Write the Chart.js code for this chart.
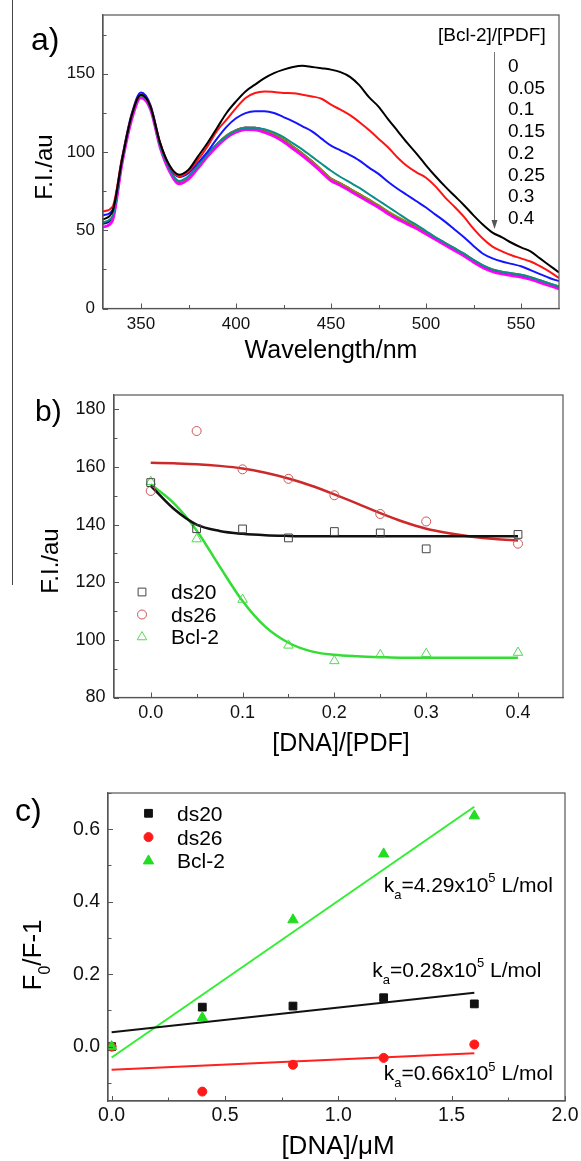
<!DOCTYPE html>
<html lang="en">
<head>
<meta charset="UTF-8">
<title>PDF fluorescence with DNA</title>
<script src="https://cdn.jsdelivr.net/npm/chart.js"></script>
<style>
  body { margin: 0; background: #fff; }
  #page { position: relative; width: 581px; height: 1161px; overflow: hidden; }
  canvas { position: absolute; left: 0; }
  #edge { position: absolute; left: 12px; top: 0; height: 585px; border-left: 1.5px solid #444; }
</style>
</head>
<body>
<div id="page">
  <div id="edge"></div>
  <canvas id="chartA" width="581" height="370" style="top:0"></canvas>
  <canvas id="chartB" width="581" height="390" style="top:370px"></canvas>
  <canvas id="chartC" width="581" height="401" style="top:760px"></canvas>
</div>
<script>
const FONT = "'Liberation Sans', Arial, sans-serif";
Chart.defaults.font.family = FONT;
Chart.defaults.color = '#000';
Chart.defaults.animation = false;
Chart.defaults.plugins.legend.display = false;
Chart.defaults.plugins.tooltip.enabled = false;

// a) emission spectra, one per [Bcl-2]/[PDF] ratio
const wavelength = [330,335,340,345,350,355,360,365,370,375,380,385,390,395,400,405,410,415,420,425,
  430,435,440,445,450,455,460,465,470,475,480,485,490,495,500,505,510,515,520,525,
  530,535,540,545,550,555,560,565,570];
const ratioLabels = ['0', '0.05', '0.1', '0.15', '0.2', '0.25', '0.3', '0.4'];
const fi000 = [56.8,62,95,123,136.5,129,106,91.5,85.5,88.7,97.2,105.7,115.3,124.9,132.3,138.7,143,147.2,150.4,152.6,
  154.3,155.1,154.3,153.5,152.6,151,148,142.5,135,129,121,113.5,106,99,91.5,84.5,78,72,66,59.5,
  53.5,48.5,45.5,42,39,36.5,32,27.5,23];
const fi005 = [62,65,96,123,136.5,129,106,91,84.5,87.6,95,103.6,113.5,120.6,128,134.5,137.7,138.7,138.3,137.7,
  137.5,136.6,135.5,134,130.2,127,123.5,119,114,108.5,103,96.5,91,87,83.5,78,71,65,58.5,51,
  44.5,39.5,36.5,34,32,30,27,23.5,19.5];
const fi010 = [59.5,63,96,124,138,130,106,90.5,84,86.5,93,100,108.5,116,121.5,124.8,126,126,124.9,122.3,
  119.6,116.4,113.2,108.5,104,101,98,94.5,90,86,81,76.5,72.5,68.5,64.5,60,55.5,50.5,45.5,40,
  35,32,30,28.5,27,24.5,22,19.5,17.5];
const fi015 = [55,59,94,122,136,128,104,89,81.5,84.5,91,98.5,105,110,113.6,115.3,115.5,114.5,112.5,109.5,
  105.5,101.5,97,92.5,88,84,80.5,77,73,69,65,61,57,53.5,49.5,45.5,42,38.5,35,31,
  27.5,25,23.5,22.5,21.5,20,18,16,14];
const fi020 = [52,56,92,120,134.5,127,103,87.5,79.5,82.5,89.5,97,103.5,109,112.5,114.2,114,112.5,110,106.5,
  102,97.5,92.5,87,81.5,78.5,75,71.5,68,64.5,60.5,57,54,51,47.5,44,40.5,37,33.5,29.5,
  26,23.5,22,21,20,18.5,16.5,14.5,12.5];
const fi025 = [51.5,57,93,121,135.5,128,104.5,88.5,81,84,91,98.5,105,110.5,114,115.5,115.5,114,111.5,108,
  103.5,99,94,88.5,83,80,76.5,73,69.5,66,62,58.5,55.5,52.5,49,45.5,42,38.5,35,31,
  27.5,25,23.5,22.5,21.5,20,18,16,14];
const fi030 = [54,58,94,122,136,128.5,104.5,89,81,84,91,98.5,105,110.5,114,115.7,115.5,114,111.5,107.5,
  103,98.5,93.5,88,82.5,79.5,76,72.5,69,65.5,61.5,58,55,52,48.5,45,41.5,38,34.5,30.5,
  27,24.5,23,22,21,19.5,17.5,15.5,13.5];
const fi040 = [55,58.5,93.5,121.5,135.5,128,104,88.5,80.5,83.5,90.5,98,104.5,110,113.5,115.2,115.3,113.8,111.3,108,
  103.5,99,94,88.5,83,80,76.5,73,69.5,65.5,61.5,58,55,52,48.5,45,41.5,38,34.5,30.5,
  27,24.5,23,22,21,19.5,17.5,15.5,13];
const spectra = [fi000, fi005, fi010, fi015, fi020, fi025, fi030, fi040];
const spectraColors = ['#000000', '#ff1414', '#1414ff', '#0a8f8a', '#ff00ff', '#8a8a14', '#14147a', '#7a1010'];

// b) F.I. vs [DNA]/[PDF]
const seriesNames = ['ds20', 'ds26', 'Bcl-2'];
const ratioB = [0, 0.05, 0.1, 0.15, 0.2, 0.25, 0.3, 0.4];
const ds20B = [154.6, 138.6, 138.5, 135.4, 137.6, 137.1, 131.6, 136.6];
const ds26B = [151.7, 172.5, 159.2, 155.9, 150.2, 143.7, 141.1, 133.4];
const bcl2B = [154.9, 135.0, 114.0, 98.1, 92.7, 94.8, 95.2, 95.6];
const fitXB = [0, 0.025, 0.05, 0.075, 0.1, 0.125, 0.15, 0.175, 0.2, 0.225, 0.25, 0.275, 0.3, 0.325, 0.35, 0.375, 0.4];
const ds20FitB = [153.5, 145.5, 140, 137.8, 136.8, 136.3, 136.1, 136, 136, 136, 136, 136, 136, 136, 136, 136, 136];
const ds26FitB = [161.5, 161.3, 161, 160.4, 159.5, 158, 156, 153.5, 150.5, 147.3, 144, 141, 138.6, 137, 135.8, 135, 134.5];
const bcl2FitB = [154, 147.5, 138, 125.5, 113.5, 104.5, 99, 96, 94.8, 94.3, 94, 93.8, 93.8, 93.8, 93.8, 93.8, 93.8];

// c) Stern-Volmer plot
const concC = [0, 0.4, 0.8, 1.2, 1.6];
const ds20C = [0, 0.109, 0.112, 0.135, 0.118];
const ds26C = [0, -0.124, -0.050, -0.031, 0.006];
const bcl2C = [0, 0.080, 0.350, 0.532, 0.637];
const fitXC = [0, 1.6];
const ds20FitC = [0.040, 0.149];
const ds26FitC = [-0.064, -0.018];
const bcl2FitC = [-0.030, 0.662];
const kaValues = ['4.29', '0.28', '0.66'];

const pts = (xs, ys) => xs.map((x, i) => ({ x, y: ys[i] }));

function axis(o) {
  return {
    type: 'linear', min: o.min, max: o.max,
    border: { color: '#555', width: 1.2 },
    grid: { drawOnChartArea: false, drawTicks: false },
    ticks: {
      stepSize: o.step, includeBounds: false, padding: o.pad, autoSkip: false, maxRotation: 0,
      font: { size: o.size }, color: '#111',
      callback: v => o.major(v) ? o.fmt(v) : ''
    },
    afterFit: s => {
      if (s.isHorizontal()) s.height = o.fit; else s.width = o.fit;
      s.paddingLeft = s.paddingRight = s.paddingTop = s.paddingBottom = 0;
    }
  };
}

// text with optional sub/superscript pieces, y is the baseline
function rich(ctx, segs, x, y, size, align) {
  const small = Math.round(size * 0.62);
  const piece = s => typeof s === 'string' ? [s, size, 0]
    : (s.sub !== undefined ? [s.sub, small, size * 0.33] : [s.sup, small, -size * 0.45]);
  let total = 0;
  segs.forEach(s => { const [t, fs] = piece(s); ctx.font = fs + 'px ' + FONT; total += ctx.measureText(t).width; });
  let cx = align === 'center' ? x - total / 2 : x;
  ctx.textAlign = 'left';
  ctx.textBaseline = 'alphabetic';
  segs.forEach(s => {
    const [t, fs, dy] = piece(s);
    ctx.font = fs + 'px ' + FONT;
    ctx.fillText(t, cx, y + dy);
    cx += ctx.measureText(t).width;
  });
}
function vtext(ctx, segs, cx, cy, size) {
  ctx.save();
  ctx.translate(cx, cy);
  ctx.rotate(-Math.PI / 2);
  rich(ctx, segs, 0, size * 0.35, size, 'center');
  ctx.restore();
}
// box around the plot plus inward tick marks, major ones longer
function frame(chart, xMajor, yMajor) {
  const { ctx, chartArea: a, scales } = chart;
  ctx.save();
  ctx.strokeStyle = '#555';
  ctx.lineWidth = 1.2;
  ctx.strokeRect(a.left, a.top, a.right - a.left, a.bottom - a.top);
  ctx.lineWidth = 1;
  ctx.beginPath();
  scales.x.ticks.forEach(t => {
    const px = Math.round(scales.x.getPixelForValue(t.value)) + 0.5;
    ctx.moveTo(px, a.bottom);
    ctx.lineTo(px, a.bottom - (xMajor(t.value) ? 5 : 3.5));
  });
  scales.y.ticks.forEach(t => {
    const py = Math.round(scales.y.getPixelForValue(t.value)) + 0.5;
    ctx.moveTo(a.left, py);
    ctx.lineTo(a.left + (yMajor(t.value) ? 5 : 3.5), py);
  });
  ctx.stroke();
  ctx.restore();
}

const majA = { x: v => v % 50 === 0, y: v => v % 50 === 0 };
const majB = { x: v => Math.round(v * 100) % 10 === 0, y: v => v % 20 === 0 };
const majC = { x: v => Math.round(v * 100) % 50 === 0, y: v => Math.round(v * 10) % 2 === 0 };

// ---------- a) ----------
new Chart(document.getElementById('chartA'), {
  type: 'line',
  data: {
    datasets: spectra.map((s, i) => ({
      label: ratioLabels[i],
      data: pts(wavelength, s),
      borderColor: spectraColors[i],
      borderWidth: i === 4 ? 2.6 : 2,
      pointRadius: 0,
      cubicInterpolationMode: 'monotone'
    }))
  },
  options: {
    responsive: false,
    devicePixelRatio: 1,
    layout: { padding: { left: 0, right: 22, top: 15, bottom: 0 } },
    scales: {
      x: axis({ min: 330, max: 570, step: 25, pad: 6, size: 17, fit: 61.5, major: majA.x, fmt: v => String(v) }),
      y: axis({ min: 0, max: 187.5, step: 25, pad: 8, size: 17, fit: 103, major: majA.y, fmt: v => String(v) })
    }
  },
  plugins: [{
    id: 'decoA',
    afterDraw(chart) {
      const ctx = chart.ctx;
      frame(chart, majA.x, majA.y);
      ctx.save();
      ctx.fillStyle = '#000';
      rich(ctx, ['a)'], 31, 50, 32);
      vtext(ctx, ['F.I./au'], 44, 167, 24);
      rich(ctx, ['[Bcl-2]/[PDF]'], 438, 41, 19);
      rich(ctx, ['Wavelength/nm'], 331, 358, 25, 'center');
      ratioLabels.forEach((t, i) => rich(ctx, [t], 508, 72 + i * 21.7, 19));
      ctx.strokeStyle = '#777';
      ctx.lineWidth = 1;
      ctx.beginPath();
      ctx.moveTo(494.5, 52);
      ctx.lineTo(494.5, 222);
      ctx.stroke();
      ctx.fillStyle = '#555';
      ctx.beginPath();
      ctx.moveTo(491.5, 220);
      ctx.lineTo(497.5, 220);
      ctx.lineTo(494.5, 229);
      ctx.closePath();
      ctx.fill();
      ctx.restore();
    }
  }]
});

// ---------- b) ----------
const markB = [
  { pointStyle: 'rect', radius: 5.5, color: '#444' },
  { pointStyle: 'circle', radius: 4.5, color: '#d05555' },
  { pointStyle: 'triangle', radius: 5.5, color: '#55d855' }
];
const lineB = ['#111111', '#cc2a2a', '#33dd33'];
new Chart(document.getElementById('chartB'), {
  type: 'scatter',
  data: {
    datasets: [
      ...[ds20B, ds26B, bcl2B].map((s, i) => ({
        label: seriesNames[i], data: pts(ratioB, s),
        pointStyle: markB[i].pointStyle, pointRadius: markB[i].radius,
        pointBorderColor: markB[i].color, pointBackgroundColor: 'rgba(0,0,0,0)', pointBorderWidth: 1
      })),
      ...[ds20FitB, ds26FitB, bcl2FitB].map((s, i) => ({
        label: seriesNames[i] + ' fit', data: pts(fitXB, s), showLine: true,
        borderColor: lineB[i], borderWidth: 2.5, pointRadius: 0, cubicInterpolationMode: 'monotone'
      }))
    ]
  },
  options: {
    responsive: false,
    devicePixelRatio: 1,
    layout: { padding: { left: 0, right: 18, top: 25, bottom: 0 } },
    scales: {
      x: axis({ min: -0.04, max: 0.449, step: 0.05, pad: 5, size: 18, fit: 62.5, major: majB.x, fmt: v => v.toFixed(1) }),
      y: axis({ min: 80, max: 185, step: 10, pad: 8.5, size: 18, fit: 114, major: majB.y, fmt: v => String(v) })
    }
  },
  plugins: [{
    id: 'decoB',
    afterDraw(chart) {
      const ctx = chart.ctx;
      frame(chart, majB.x, majB.y);
      ctx.save();
      ctx.fillStyle = '#000';
      rich(ctx, ['b)'], 35, 51, 30);
      vtext(ctx, ['F.I./au'], 50, 191, 24);
      rich(ctx, ['[DNA]/[PDF]'], 341, 381, 25, 'center');
      seriesNames.forEach((n, i) => {
        const y = 222 + i * 22.5;
        ctx.strokeStyle = markB[i].color;
        ctx.fillStyle = 'rgba(0,0,0,0)';
        ctx.lineWidth = 1;
        Chart.helpers.drawPoint(ctx, { pointStyle: markB[i].pointStyle, radius: markB[i].radius, borderWidth: 1, rotation: 0 }, 142, y);
        ctx.fillStyle = '#000';
        rich(ctx, [n], 171, y + 7, 21);
      });
      ctx.restore();
    }
  }]
});

// ---------- c) ----------
const markC = [
  { pointStyle: 'rect', radius: 5.5, color: '#111111' },
  { pointStyle: 'circle', radius: 4.5, color: '#ff1a1a' },
  { pointStyle: 'triangle', radius: 6, color: '#22dd22' }
];
const lineC = ['#111111', '#ff2020', '#33ee33'];
new Chart(document.getElementById('chartC'), {
  type: 'scatter',
  data: {
    datasets: [
      ...[bcl2C, ds26C, ds20C].map((s, k) => {
        const i = 2 - k;
        return {
          label: seriesNames[i], data: pts(concC, s),
          pointStyle: markC[i].pointStyle, pointRadius: markC[i].radius,
          pointBorderColor: markC[i].color, pointBackgroundColor: markC[i].color, pointBorderWidth: 1
        };
      }),
      ...[ds20FitC, ds26FitC, bcl2FitC].map((s, i) => ({
        label: seriesNames[i] + ' fit', data: pts(fitXC, s), showLine: true,
        borderColor: lineC[i], borderWidth: 2, pointRadius: 0
      }))
    ]
  },
  options: {
    responsive: false,
    devicePixelRatio: 1,
    layout: { padding: { left: 0, right: 16, top: 33, bottom: 0 } },
    scales: {
      x: axis({ min: -0.016, max: 2.0, step: 0.25, pad: 3, size: 19.5, fit: 60, major: majC.x, fmt: v => v.toFixed(1) }),
      y: axis({ min: -0.15, max: 0.70, step: 0.1, pad: 8, size: 19.5, fit: 108, major: majC.y, fmt: v => v.toFixed(1) })
    }
  },
  plugins: [{
    id: 'decoC',
    afterDraw(chart) {
      const ctx = chart.ctx;
      const sx = chart.scales.x, sy = chart.scales.y;
      frame(chart, majC.x, majC.y);
      ctx.save();
      ctx.fillStyle = '#000';
      rich(ctx, ['c)'], 15, 61, 32);
      vtext(ctx, ['F', { sub: '0' }, '/F-1'], 32, 195, 26);
      rich(ctx, ['[DNA]/\u03bcM'], 338, 394, 26, 'center');
      seriesNames.forEach((n, i) => {
        const y = 53.3 + i * 23.8;
        ctx.strokeStyle = markC[i].color;
        ctx.fillStyle = markC[i].color;
        ctx.lineWidth = 1;
        Chart.helpers.drawPoint(ctx, { pointStyle: markC[i].pointStyle, radius: markC[i].radius, borderWidth: 1, rotation: 0 }, 148.5, y);
        ctx.fillStyle = '#000';
        rich(ctx, [n], 177, y + 7.5, 21);
      });
      // rate constant labels, placed in data units
      [[1.20, 0.447], [1.15, 0.212], [1.20, -0.073]].forEach(([x, y], i) => {
        rich(ctx, ['k', { sub: 'a' }, '=' + kaValues[i] + 'x10', { sup: '5' }, ' L/mol'],
          sx.getPixelForValue(x), sy.getPixelForValue(y) + 7, 21);
      });
      ctx.restore();
    }
  }]
});
</script>
</body>
</html>
